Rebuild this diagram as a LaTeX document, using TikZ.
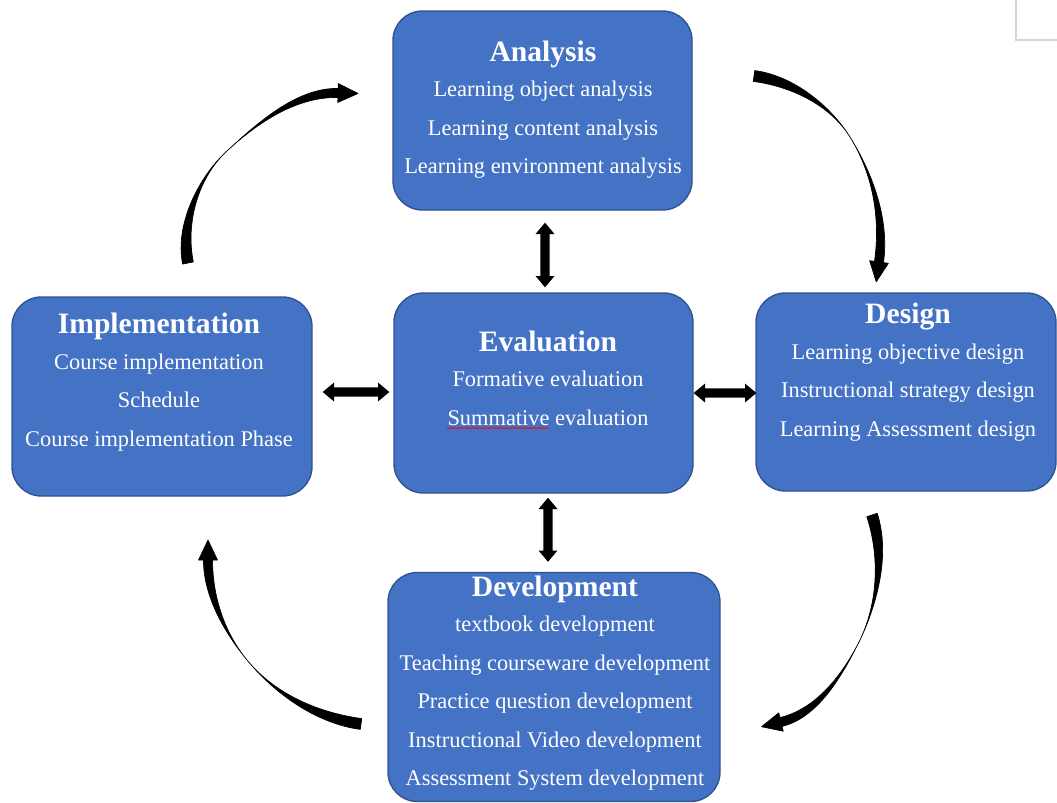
\documentclass[tikz,border=0pt]{standalone}
\usepackage{fontspec}
\setmainfont{Liberation Serif}
\usetikzlibrary{calc,decorations.pathmorphing}

\definecolor{boxblue}{HTML}{4472C4}
\definecolor{boxedge}{HTML}{2F528F}
\definecolor{framegray}{HTML}{D6D6D6}

\tikzset{
  stage/.style={draw=boxedge, line width=1pt, fill=boxblue, rounded corners=22pt, inner sep=0pt},
  stagetext/.style={text=white, align=center, inner sep=0pt,
    font=\fontsize{16.8pt}{28.9pt}\selectfont},
  solidarrow/.style={fill=black},
  curvearrow/.style={fill=black, draw=black, line width=0.5pt, line join=round},
  spellmark/.style={draw=red, line width=0.45pt, decorate,
    decoration={snake, amplitude=0.6pt, segment length=2.4pt}},
}

\newcommand\stagetitle[1]{\raisebox{-2.25pt}{\bfseries\fontsize{22.2pt}{28.9pt}\selectfont #1}}

% dimensions of the tapered cycle arrows
\newcommand\crvTail{4.1pt}
\newcommand\crvHead{3.4pt}
\newcommand\crvTipL{15pt}
\newcommand\crvTipW{7.1pt}

% tapered curved arrow: thick at both ends, thin in the middle
% #1 tail, #2 #3 controls, #4 middle, #5 #6 controls, #7 base of the head
\newcommand\taperarrow[7]{%
  \coordinate (ta-ap) at ($(#1)!\crvTail!90:(#2)$);
  \coordinate (ta-am) at ($(#1)!\crvTail!-90:(#2)$);
  \coordinate (ta-cp) at ($(#2)+(ta-ap)-(#1)$);
  \coordinate (ta-cm) at ($(#2)+(ta-am)-(#1)$);
  \coordinate (ta-bp) at ($(#7)!\crvHead!-90:(#6)$);
  \coordinate (ta-bm) at ($(#7)!\crvHead!90:(#6)$);
  \coordinate (ta-dp) at ($(#6)+(ta-bp)-(#7)$);
  \coordinate (ta-dm) at ($(#6)+(ta-bm)-(#7)$);
  \coordinate (ta-t) at ($(#7)!-\crvTipL!(#6)$);
  \coordinate (ta-hp) at ($(#7)!\crvTipW!90:(ta-t)$);
  \coordinate (ta-hm) at ($(#7)!\crvTipW!-90:(ta-t)$);
  \path[curvearrow] (ta-ap) .. controls (ta-cp) and (#3) .. (#4)
    .. controls (#5) and (ta-dp) .. (ta-bp) -- (ta-hp) -- (ta-t) -- (ta-hm)
    -- (ta-bm) .. controls (ta-dm) and (#5) .. (#4)
    .. controls (#3) and (ta-cm) .. (ta-am) -- cycle;
}

% straight double-headed block arrow between two points
\newcommand\blkShaft{3.4pt}
\newcommand\blkHead{7.1pt}
\newcommand\blkLen{8.5pt}
\newcommand\blockarrow[2]{%
  \coordinate (ba-p) at ($(#1)!\blkLen!(#2)$);
  \coordinate (ba-q) at ($(#2)!\blkLen!(#1)$);
  \path[solidarrow] (#1)
    -- ($(ba-p)!\blkHead!90:(#2)$) -- ($(ba-p)!\blkShaft!90:(#2)$)
    -- ($(ba-q)!\blkShaft!-90:(#1)$) -- ($(ba-q)!\blkHead!-90:(#1)$)
    -- (#2)
    -- ($(ba-q)!\blkHead!90:(#1)$) -- ($(ba-q)!\blkShaft!90:(#1)$)
    -- ($(ba-p)!\blkShaft!-90:(#2)$) -- ($(ba-p)!\blkHead!-90:(#2)$)
    -- cycle;
}

\begin{document}
\begin{tikzpicture}[x=0.75pt,y=-0.75pt]
\useasboundingbox (0,0) rectangle (1057,803);
\fill[white] (0,0) rectangle (1057,803);

% page corner mark
\draw[framegray, line width=1.4pt] (1016,0) -- (1016,40) -- (1057,40);

% the five stages
\node[stage, minimum width=299*0.75pt, minimum height=199*0.75pt] (ana) at (542.5,110.5) {};
\node[stage, minimum width=300*0.75pt, minimum height=199*0.75pt] (imp) at (162,396.5) {};
\node[stage, minimum width=299*0.75pt, minimum height=200*0.75pt] (eva) at (543.5,393) {};
\node[stage, minimum width=300*0.75pt, minimum height=198*0.75pt] (des) at (906,392) {};
\node[stage, minimum width=332*0.75pt, minimum height=229*0.75pt] (dev) at (554,687) {};

\node[stagetext] (anatxt) at (543,109.5) {\stagetitle{Analysis}\\
  Learning object analysis\\Learning content analysis\\Learning environment analysis};
\node[stagetext] (imptxt) at (159,382) {\stagetitle{Implementation}\\
  Course implementation\\Schedule\\Course implementation Phase};
\node[stagetext] (evatxt) at (548,378) {\stagetitle{Evaluation}\\
  Formative evaluation\\Summative evaluation};
\node[stagetext] (destxt) at (908,372) {\stagetitle{Design}\\
  Learning objective design\\Instructional strategy design\\Learning Assessment design};
\node[stagetext] (devtxt) at (555,683) {\stagetitle{Development}\\
  textbook development\\Teaching courseware development\\Practice question development\\
  Instructional Video development\\Assessment System development};

% spell-check underline
\draw[spellmark] (447,428) -- (549,428);

% evaluation links
\coordinate (ae1) at ($(ana.south)+(2.5,12)$);
\coordinate (ae2) at ($(eva.north)+(1.5,-5)$);
\blockarrow{ae1}{ae2}
\coordinate (ie1) at ($(imp.east)+(10,-4.5)$);
\coordinate (ie2) at ($(eva.west)+(-4,-1)$);
\blockarrow{ie1}{ie2}
\coordinate (ed1) at ($(eva.east)+(0,0)$);
\coordinate (ed2) at ($(des.west)+(1,1)$);
\blockarrow{ed1}{ed2}
\coordinate (ev1) at ($(eva.south)+(4.5,4)$);
\coordinate (ev2) at ($(dev.north)+(-6,-10)$);
\blockarrow{ev1}{ev2}

% cycle arrows
\coordinate (c1a) at (188,263);
\coordinate (c1b) at (180,224);
\coordinate (c1c) at (198,177);
\coordinate (c1m) at (228,150);
\coordinate (c1d) at (258,122.5);
\coordinate (c1e) at (297,92);
\coordinate (c1h) at (338,93);
\taperarrow{c1a}{c1b}{c1c}{c1m}{c1d}{c1e}{c1h}

\coordinate (c2a) at (754,76);
\coordinate (c2b) at (792,81);
\coordinate (c2c) at (830,105);
\coordinate (c2m) at (850,137);
\coordinate (c2d) at (873,174);
\coordinate (c2e) at (885,219);
\coordinate (c2h) at (879,262);
\taperarrow{c2a}{c2b}{c2c}{c2m}{c2d}{c2e}{c2h}

\coordinate (c3a) at (872,515);
\coordinate (c3b) at (885,555);
\coordinate (c3c) at (878,602);
\coordinate (c3m) at (860,640);
\coordinate (c3d) at (843,674);
\coordinate (c3e) at (818,713);
\coordinate (c3h) at (781,722);
\taperarrow{c3a}{c3b}{c3c}{c3m}{c3d}{c3e}{c3h}

\coordinate (c4a) at (361,724);
\coordinate (c4b) at (317,718);
\coordinate (c4c) at (275,694);
\coordinate (c4m) at (247,660);
\coordinate (c4d) at (224,632);
\coordinate (c4e) at (208,596);
\coordinate (c4h) at (208,560);
\taperarrow{c4a}{c4b}{c4c}{c4m}{c4d}{c4e}{c4h}
\end{tikzpicture}
\end{document}
